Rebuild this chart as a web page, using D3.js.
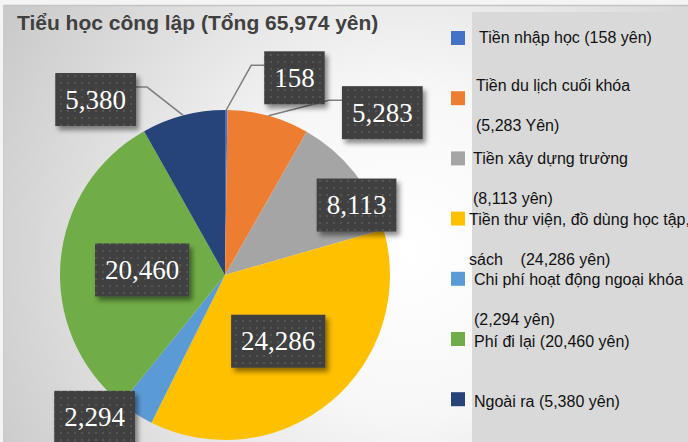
<!DOCTYPE html>
<meta charset="utf-8">
<style>
  body { margin: 0; background: #f4f4f4; }
  svg { display: block; }
  .legend text { font-family: "Liberation Sans", Arial, sans-serif; font-size: 16px; fill: #111; white-space: pre; }
  .lbl text { font-family: "Liberation Serif", "Times New Roman", serif; font-size: 27px; fill: #fff; }
</style>
<div class="chart"></div>
<script src="https://cdn.jsdelivr.net/npm/d3@7/dist/d3.min.js"></script>
<script>
  // data
  var title = "Tiểu học công lập (Tổng 65,974 yên)";
  var categories = ["Tiền nhập học", "Tiền du lịch cuối khóa", "Tiền xây dựng trường",
      "Tiền thư viện, đồ dùng học tập, sách", "Chi phí hoạt động ngoại khóa", "Phí đi lại", "Ngoài ra"];
  var values = [158, 5283, 8113, 24286, 2294, 20460, 5380];
  var colors = ["#4472C4", "#ED7D31", "#A5A5A5", "#FFC000", "#5B9BD5", "#70AD47", "#264478"];
  var legendLines = [
      ["Tiền nhập học (158 yên)"],
      ["Tiền du lịch cuối khóa", "(5,283 Yên)"],
      ["Tiền xây dựng trường", "(8,113 yên)"],
      ["Tiền thư viện, đồ dùng học tập,", "sách    (24,286 yên)"],
      ["Chi phí hoạt động ngoại khóa", "(2,294 yên)"],
      ["Phí đi lại (20,460 yên)"],
      ["Ngoài ra (5,380 yên)"]
  ];

  // layout (hand placed labels, like the excel original): angle in degrees, radius in pie radii
  var labelAngle = [19.4, 44.1, 62, 141.2, 222.5, 273.5, 323.6];
  var labelRad = [1.267, 1.37, 0.903, 0.515, 1.17, 0.503, 1.321];
  var hasLeader = [true, true, false, false, false, false, true];
  var legendDx = [5, 2, -1, -5, 0, 0, 0];
  var legendDy = [5, -7.5, 5.5, 6, 6, 7.7, 7.7];

  var W = 688, H = 442;
  var cx = 225, cy = 275, R = 165;

  var svg = d3.select(".chart").append("svg").attr("width", W).attr("height", H);
  var defs = svg.append("defs");

  var bg = defs.append("radialGradient").attr("id", "bg")
      .attr("gradientUnits", "userSpaceOnUse")
      .attr("cx", 410).attr("cy", 250).attr("r", 470);
  bg.append("stop").attr("offset", "0").attr("stop-color", "#ffffff");
  bg.append("stop").attr("offset", "0.35").attr("stop-color", "#f7f7f7");
  bg.append("stop").attr("offset", "1").attr("stop-color", "#c9c9c9");

  var pat = defs.append("pattern").attr("id", "dots")
      .attr("patternUnits", "userSpaceOnUse").attr("width", 7).attr("height", 7);
  pat.append("rect").attr("width", 7).attr("height", 7).attr("fill", "#3f3f3f");
  pat.append("rect").attr("x", 3).attr("y", 3).attr("width", 2).attr("height", 2).attr("fill", "#555555");

  var sh = defs.append("filter").attr("id", "shadow")
      .attr("x", "-20%").attr("y", "-20%").attr("width", "150%").attr("height", "160%");
  sh.append("feDropShadow").attr("dx", 3).attr("dy", 4).attr("stdDeviation", 2.5)
      .attr("flood-color", "#000").attr("flood-opacity", 0.45);

  // background + frame
  svg.append("rect").attr("x", 3).attr("y", 5).attr("width", W - 3).attr("height", H - 5)
      .attr("fill", "url(#bg)");
  svg.append("line").attr("x1", 3).attr("x2", W).attr("y1", 5.5).attr("y2", 5.5)
      .attr("stroke", "#c4c4c4").attr("stroke-width", 1.5);
  svg.append("line").attr("x1", 3.5).attr("x2", 3.5).attr("y1", 5).attr("y2", H)
      .attr("stroke", "#cccccc").attr("stroke-width", 1);

  // title
  svg.append("text").attr("x", 17).attr("y", 30)
      .attr("font-family", "Liberation Sans, Arial, sans-serif")
      .attr("font-weight", "bold").attr("font-size", "21px").attr("fill", "#404040")
      .text(title);

  // pie
  var pie = d3.pie().sort(null).value(function(d) { return d; });
  var arcs = pie(values);
  var arc = d3.arc().innerRadius(0).outerRadius(R);
  var edgeArc = d3.arc().innerRadius(R).outerRadius(R);

  var g = svg.append("g").attr("transform", "translate(" + cx + "," + cy + ")");
  g.selectAll("path.slice").data(arcs).enter().append("path")
      .attr("class", "slice")
      .attr("d", arc)
      .attr("fill", function(d, i) { return colors[i]; });

  // data labels
  var fmt = d3.format(",");
  var lbls = g.selectAll("g.lbl").data(arcs).enter().append("g").attr("class", "lbl");

  lbls.each(function(d, i) {
      var a = labelAngle[i] * Math.PI / 180;
      var lx = Math.sin(a) * R * labelRad[i];
      var ly = -Math.cos(a) * R * labelRad[i];
      var sel = d3.select(this);
      var box = sel.append("rect").attr("filter", "url(#shadow)").attr("fill", "url(#dots)");
      var t = sel.append("text").attr("text-anchor", "middle")
          .attr("x", lx).attr("y", ly + 9).text(fmt(values[i]));
      var bw = t.node().getComputedTextLength() + 20, bh = 53;
      var left = lx - bw / 2, top = ly - bh / 2;
      box.attr("x", left).attr("y", top).attr("width", bw).attr("height", bh);

      if (hasLeader[i]) {
          var p = edgeArc.centroid(d);
          var pts;
          if (left > p[0]) {
              pts = [p, [left - 13, top + 14], [left, top + 14]];
          } else {
              pts = [p, [left + bw + 11, top + 14], [left + bw, top + 14]];
          }
          g.insert("path", "g.lbl")
              .attr("d", d3.line()(pts))
              .attr("fill", "none").attr("stroke", "#7f7f7f").attr("stroke-width", 1.5);
      }
  });

  // legend
  var leg = svg.append("g").attr("class", "legend");
  leg.append("rect").attr("x", 472).attr("y", 12).attr("width", W - 472).attr("height", H - 12)
      .attr("fill", "#d9d9d9");

  var step = 60.2;
  var items = leg.selectAll("g.item").data(categories).enter().append("g").attr("class", "item")
      .attr("transform", function(d, i) { return "translate(451," + (31 + i * step) + ")"; });
  items.append("rect").attr("width", 14).attr("height", 14)
      .attr("fill", function(d, i) { return colors[i]; });
  items.each(function(d, i) {
      var it = d3.select(this);
      legendLines[i].forEach(function(line, j) {
          it.append("text")
              .attr("x", 23 + legendDx[i])
              .attr("y", 7 + legendDy[i] + j * 40.5)
              .text(line);
      });
  });
</script>
